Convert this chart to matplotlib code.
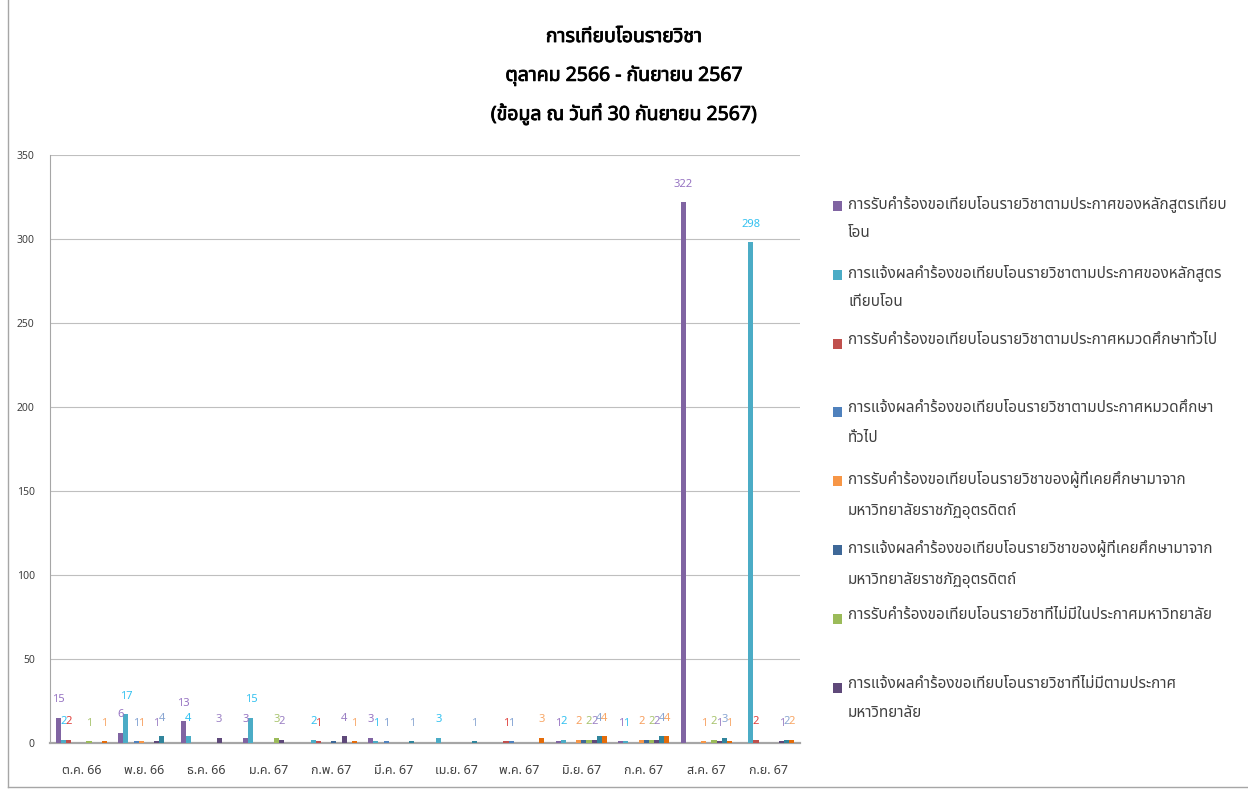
import numpy as np
import matplotlib
matplotlib.use("Agg")
import matplotlib.pyplot as plt
import matplotlib.patheffects as pe
from matplotlib import font_manager
from matplotlib.ft2font import FT2Font
from matplotlib.patches import Rectangle
from matplotlib.lines import Line2D

# ---- data ----
months = ["ต.ค. 66", "พ.ย. 66", "ธ.ค. 66", "ม.ค. 67", "ก.พ. 67", "มี.ค. 67",
          "เม.ย. 67", "พ.ค. 67", "มิ.ย. 67", "ก.ค. 67", "ส.ค. 67", "ก.ย. 67"]

s1 = [15, 6, 13, 3, 0, 3, 0, 0, 1, 1, 322, 0]
s2 = [2, 17, 4, 15, 2, 1, 3, 0, 2, 1, 0, 298]
s3 = [2, 0, 0, 0, 1, 0, 0, 1, 0, 0, 0, 2]
s4 = [0, 1, 0, 0, 0, 1, 0, 1, 0, 0, 0, 0]
s5 = [0, 1, 0, 0, 0, 0, 0, 0, 2, 2, 1, 0]
s6 = [0, 0, 0, 0, 1, 0, 0, 0, 2, 2, 0, 0]
s7 = [1, 0, 0, 3, 0, 0, 0, 0, 2, 2, 2, 0]
s8 = [0, 1, 3, 2, 4, 0, 0, 0, 2, 2, 1, 1]
s9 = [0, 4, 0, 0, 0, 1, 1, 0, 4, 4, 3, 2]
s10 = [1, 0, 0, 0, 1, 0, 0, 3, 4, 4, 1, 2]
series = [s1, s2, s3, s4, s5, s6, s7, s8, s9, s10]

legend_labels = [
    "การรับคำร้องขอเทียบโอนรายวิชาตามประกาศของหลักสูตรเทียบ\nโอน",
    "การแจ้งผลคำร้องขอเทียบโอนรายวิชาตามประกาศของหลักสูตร\nเทียบโอน",
    "การรับคำร้องขอเทียบโอนรายวิชาตามประกาศหมวดศึกษาทั่วไป",
    "การแจ้งผลคำร้องขอเทียบโอนรายวิชาตามประกาศหมวดศึกษา\nทั่วไป",
    "การรับคำร้องขอเทียบโอนรายวิชาของผู้ที่เคยศึกษามาจาก\nมหาวิทยาลัยราชภัฏอุตรดิตถ์",
    "การแจ้งผลคำร้องขอเทียบโอนรายวิชาของผู้ที่เคยศึกษามาจาก\nมหาวิทยาลัยราชภัฏอุตรดิตถ์",
    "การรับคำร้องขอเทียบโอนรายวิชาที่ไม่มีในประกาศมหาวิทยาลัย",
    "การแจ้งผลคำร้องขอเทียบโอนรายวิชาที่ไม่มีตามประกาศ\nมหาวิทยาลัย",
]

title_lines = ["การเทียบโอนรายวิชา", "ตุลาคม 2566 - กันยายน 2567",
               "(ข้อมูล ณ วันที่ 30 กันยายน 2567)"]

# ---- styles ----
bar_colors = ["#8064A2", "#4BACC6", "#C0504D", "#4F81BD", "#F79646",
              "#3E6898", "#9BBB59", "#5F497A", "#31859C", "#E46C0A"]
label_colors = ["#9673C2", "#33C1F0", "#E0403C", "#7FA0D2", "#F7A060",
                None, "#A8C46E", "#9B80C4", "#8AA6D2", "#F8A766"]


def find_thai_font():
    preferred = ["Tahoma", "Leelawadee UI", "Noto Sans Thai", "Noto Sans Thai UI",
                 "Loma", "Garuda", "Umpush", "Sawasdee", "Waree", "Kinnari",
                 "Norasi", "Sarabun", "FreeSans", "FreeSerif"]
    found = {}
    for f in font_manager.fontManager.ttflist:
        try:
            if 0x0E01 in FT2Font(f.fname).get_charmap():
                found.setdefault(f.name, f.fname)
        except Exception:
            pass
    for name in preferred:
        if name in found:
            return name
    return next(iter(found), "DejaVu Sans")


thai = find_thai_font()
plt.rcParams["font.family"] = [thai, "DejaVu Sans"]

fig = plt.figure(figsize=(12.48, 7.89), dpi=100)
ax = fig.add_axes([0.0401, 0.0583, 0.601, 0.7452])

x = np.arange(len(months))
n = len(series)
w = 1.0 / (n + 2.19)

for i, vals in enumerate(series):
    xs = x + (i - (n - 1) / 2) * w
    ax.bar(xs, vals, w, color=bar_colors[i], zorder=3)
    if label_colors[i] is None:
        continue
    for xi, v in zip(xs, vals):
        if v:
            ax.annotate(str(v), (xi, v), xytext=(0, 13), textcoords="offset points",
                        ha="center", va="center", fontsize=8,
                        color=label_colors[i], zorder=4)

ax.set_xlim(-0.5, len(months) - 0.5)
ax.set_ylim(0, 350)
ax.set_yticks(np.arange(0, 351, 50))
ax.set_xticks(x)
ax.set_xticklabels(months, fontsize=9, color="#404040")
ax.tick_params(axis="y", length=0, pad=11, labelsize=7.5, labelcolor="#404040")
ax.tick_params(axis="x", length=0, pad=15)
ax.grid(axis="y", color="#BFBFBF", linewidth=0.8, zorder=0)
for side in ["top", "right"]:
    ax.spines[side].set_visible(False)
ax.spines["left"].set_color("#A6A6A6")
ax.spines["bottom"].set_color("#A6A6A6")
ax.spines["bottom"].set_linewidth(1.6)

# title (stroke gives a bold look if the Thai font has no bold face)
for k, line in enumerate(title_lines):
    fig.text(0.5, 1 - (37 + k * 38.5) / 789, line, ha="center", va="center",
             fontsize=14, fontweight="bold", color="#000000",
             path_effects=[pe.withStroke(linewidth=0.6, foreground="#000000")])

# legend drawn in fixed slots
for i, lab in enumerate(legend_labels):
    yc = 1 - (206 + i * 68.8) / 789
    fig.patches.append(Rectangle((833 / 1248, yc - 5 / 789), 9 / 1248, 10 / 789,
                                 transform=fig.transFigure,
                                 facecolor=bar_colors[i], edgecolor="none"))
    fig.text(848 / 1248, yc + 11 / 789, lab, ha="left", va="top", fontsize=11,
             color="#404040", linespacing=2.3)

# outer chart border
fig.add_artist(Line2D([8 / 1248, 8 / 1248], [2 / 789, 1], transform=fig.transFigure,
                      color="#A6A6A6", linewidth=1))
fig.add_artist(Line2D([8 / 1248, 1], [2 / 789, 2 / 789], transform=fig.transFigure,
                      color="#A6A6A6", linewidth=1))

fig.savefig("out.png", dpi=100)
